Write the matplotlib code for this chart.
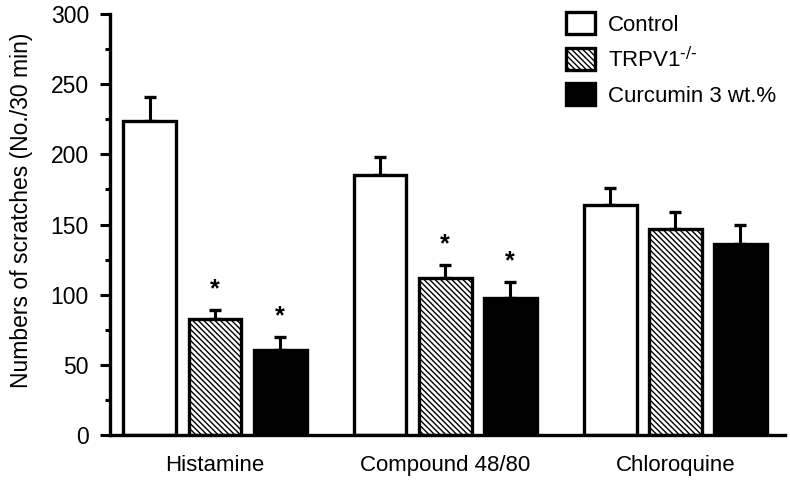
import numpy as np
import matplotlib
matplotlib.use("Agg")
import matplotlib.pyplot as plt

plt.rcParams['font.family'] = ['Liberation Sans', 'DejaVu Sans']
plt.rcParams['mathtext.default'] = 'regular'
plt.rcParams['hatch.linewidth'] = 1.0

groups = ['Histamine', 'Compound 48/80', 'Chloroquine']
series = ['Control', r'TRPV1$^{\text{-/-}}$', 'Curcumin 3 wt.%']

control = [224, 185, 164]
control_err = [17, 13, 12]
trpv1 = [83, 112, 147]
trpv1_err = [6, 9, 12]
curcumin = [61, 98, 136]
curcumin_err = [9, 11, 14]

# significance marks (group index, series index)
stars = [(0, 1), (0, 2), (1, 1), (1, 2)]

fig = plt.figure(figsize=(7.9, 4.83), dpi=100)
ax = fig.add_axes([0.139, 0.099, 0.855, 0.872])

x = np.arange(len(groups))
width = 0.23
offset = 0.283
values = [control, trpv1, curcumin]
errors = [control_err, trpv1_err, curcumin_err]
faces = ['white', 'white', 'black']
hatches = [None, '\\\\\\\\\\\\', None]

for i in range(3):
    xs = x + (i - 1) * offset
    ax.bar(xs, values[i], width, color=faces[i], edgecolor='black',
           linewidth=2.4, hatch=hatches[i], label=series[i], zorder=2)
    ax.errorbar(xs, values[i], yerr=[np.zeros(3), errors[i]], fmt='none',
                ecolor='black', elinewidth=2.2, capsize=4.5, capthick=2.4, zorder=1)

for g, s in stars:
    top = values[s][g] + errors[s][g]
    ax.text(x[g] + (s - 1) * offset, top + 15, '*', ha='center', va='center',
            fontsize=18, fontweight='bold')

ax.set_xlim(-0.457, 2.478)
ax.set_ylim(0, 300)
ax.set_yticks(range(0, 301, 50))
ax.set_yticks(range(25, 300, 50), minor=True)
ax.set_xticks(x)
ax.set_xticklabels(groups)

for side in ['top', 'right']:
    ax.spines[side].set_visible(False)
for side in ['left', 'bottom']:
    ax.spines[side].set_linewidth(2.4)

ax.tick_params(axis='y', which='major', direction='out', length=7, width=2.2,
               pad=8, labelsize=16.5)
ax.tick_params(axis='y', which='minor', direction='out', length=3.6, width=2.2)
ax.tick_params(axis='x', length=0, pad=14, labelsize=16)
ax.set_ylabel('Numbers of scratches (No./30 min)', fontsize=16.5)
ax.yaxis.set_label_coords(-0.114, 0.534)

ax.legend(loc='upper left', bbox_to_anchor=(566 / 790, 1 - 12 / 483),
          bbox_transform=fig.transFigure, frameon=False, fontsize=16,
          handlelength=1.3, handleheight=1.15, handletextpad=0.6,
          labelspacing=0.5, borderpad=0, borderaxespad=0)

plt.savefig('out.png', dpi=100)
